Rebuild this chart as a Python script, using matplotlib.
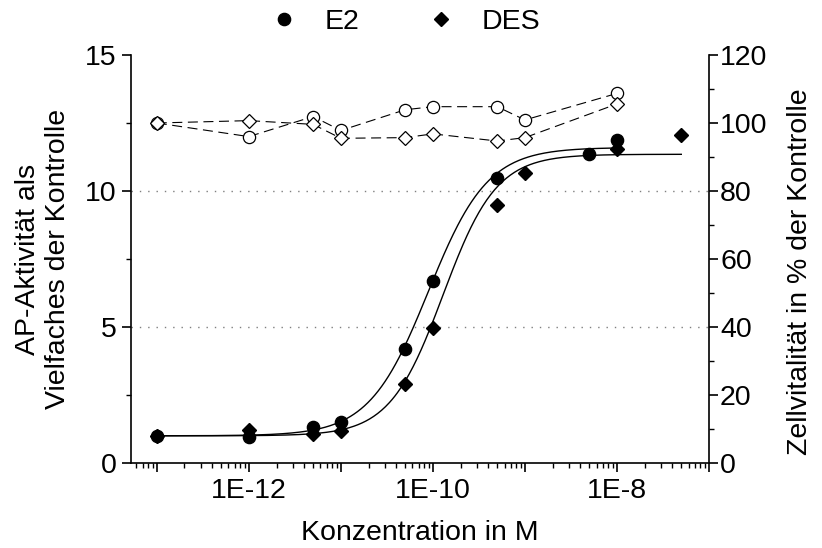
import numpy as np
import matplotlib
matplotlib.use("Agg")
import matplotlib.pyplot as plt
from matplotlib.ticker import LogLocator, MultipleLocator, NullFormatter
from matplotlib.lines import Line2D

plt.rcParams['font.family'] = ['Liberation Sans', 'DejaVu Sans']
FS = 20.5

# Reporter activity (fold of control)
e2_conc = [1e-13, 1e-12, 5e-12, 1e-11, 5e-11, 1e-10, 5e-10, 5e-9, 1e-8]
e2_act = [1.0, 0.97, 1.33, 1.52, 4.2, 6.7, 10.47, 11.36, 11.87]

des_conc = [1e-13, 1e-12, 5e-12, 1e-11, 5e-11, 1e-10, 5e-10, 1e-9, 1e-8, 5e-8]
des_act = [1.0, 1.21, 1.07, 1.19, 2.89, 4.97, 9.49, 10.67, 11.54, 12.06]

# Cell viability (% of control)
via_conc = [1e-13, 1e-12, 5e-12, 1e-11, 5e-11, 1e-10, 5e-10, 1e-9, 1e-8]
e2_via = [100, 96, 101.9, 97.8, 103.9, 104.8, 104.8, 100.9, 108.7]
des_via = [100, 100.7, 99.6, 95.5, 95.7, 96.8, 94.7, 95.7, 105.6]

# Four-parameter logistic fits: bottom, top, log EC50, Hill slope
e2_fit = (1.0, 11.6, -10.05, 1.35)
des_fit = (1.0, 11.35, -9.89, 1.5)


def logistic(logc, bottom, top, logec, hill):
    return bottom + (top - bottom) / (1 + 10 ** ((logec - logc) * hill))


fig = plt.figure(figsize=(8.22, 5.48), dpi=100)
ax = fig.add_axes([131 / 822, 1 - 463 / 548, (709 - 131) / 822, (463 - 55) / 548])
ax2 = ax.twinx()

ax.set_xscale('log')
ax.set_xlim(10 ** -13.28, 10 ** -7.0)
ax.set_ylim(0, 15)
ax2.set_ylim(0, 120)

# dotted reference lines
for yv in (5, 10):
    ax.axhline(yv, color='#7f7f7f', lw=1.0, ls=(0, (1, 5)), zorder=1)

# fitted curves
lx = np.linspace(np.log10(min(e2_conc)), np.log10(max(e2_conc)), 400)
ax.plot(10 ** lx, logistic(lx, *e2_fit), color='black', lw=1.0, zorder=2)
lx = np.linspace(np.log10(min(des_conc)), np.log10(max(des_conc)), 400)
ax.plot(10 ** lx, logistic(lx, *des_fit), color='black', lw=1.0, zorder=2)

ax.plot(e2_conc, e2_act, 'o', color='black', ms=8.8, zorder=3)
ax.plot(des_conc, des_act, 'D', color='black', ms=7.2, zorder=3)

# viability on the right axis
dash = (0, (9, 5))
ax2.plot(via_conc, e2_via, ls=dash, color='black', lw=0.8, marker='o', ms=8.8,
         mfc='white', mec='black', mew=0.9)
ax2.plot(via_conc, des_via, ls=dash, color='black', lw=0.8, marker='D', ms=7.2,
         mfc='white', mec='black', mew=0.9)

# spines
for a in (ax, ax2):
    a.spines['top'].set_visible(False)
ax.spines['right'].set_visible(False)
ax2.spines['left'].set_visible(False)
ax2.spines['bottom'].set_visible(False)
for s in ('left', 'bottom'):
    ax.spines[s].set_linewidth(1.2)
ax2.spines['right'].set_linewidth(1.2)

# x ticks
ax.xaxis.set_major_locator(LogLocator(base=10, numticks=20))
ax.xaxis.set_minor_locator(LogLocator(base=10, subs=np.arange(2, 10), numticks=20))
xt_pos = [1e-12, 1e-10, 1e-8]
xt_lab = ['1E-12', '1E-10', '1E-8']


def xfmt(v, pos):
    for p, l in zip(xt_pos, xt_lab):
        if abs(np.log10(v) - np.log10(p)) < 1e-6:
            return l
    return ''


ax.xaxis.set_major_formatter(plt.FuncFormatter(xfmt))
ax.xaxis.set_minor_formatter(NullFormatter())

ax.yaxis.set_major_locator(MultipleLocator(5))
ax.yaxis.set_minor_locator(MultipleLocator(2.5))
ax2.yaxis.set_major_locator(MultipleLocator(20))
ax2.yaxis.set_minor_locator(MultipleLocator(10))

ax.tick_params(axis='both', which='major', direction='out', length=6.5, width=1.2,
               labelsize=FS, pad=4)
ax.tick_params(axis='both', which='minor', direction='out', length=3.5, width=1.0)
ax2.tick_params(axis='y', which='major', direction='out', length=6.5, width=1.2,
                labelsize=FS, pad=1.5)
ax2.tick_params(axis='y', which='minor', direction='out', length=3.5, width=1.0)

ax.set_xlabel('Konzentration in M', fontsize=FS, labelpad=12)
ax.set_ylabel('AP-Aktivität als\nVielfaches der Kontrolle', fontsize=FS,
              linespacing=1.18, labelpad=10)
ax2.set_ylabel('Zellvitalität in % der Kontrolle', fontsize=FS, labelpad=14)
ax2.yaxis.label.set_y(0.47)

handles = [Line2D([], [], ls='none', marker='o', color='black', ms=8.8),
           Line2D([], [], ls='none', marker='D', color='black', ms=7.2)]
fig.legend(handles, ['E2', 'DES'], loc='center', ncol=2, frameon=False,
           fontsize=FS, handlelength=1.0, handletextpad=0.94, columnspacing=2.35,
           borderpad=0, bbox_to_anchor=(405 / 822, 1 - 22 / 548))

fig.savefig('out.png', dpi=100)
